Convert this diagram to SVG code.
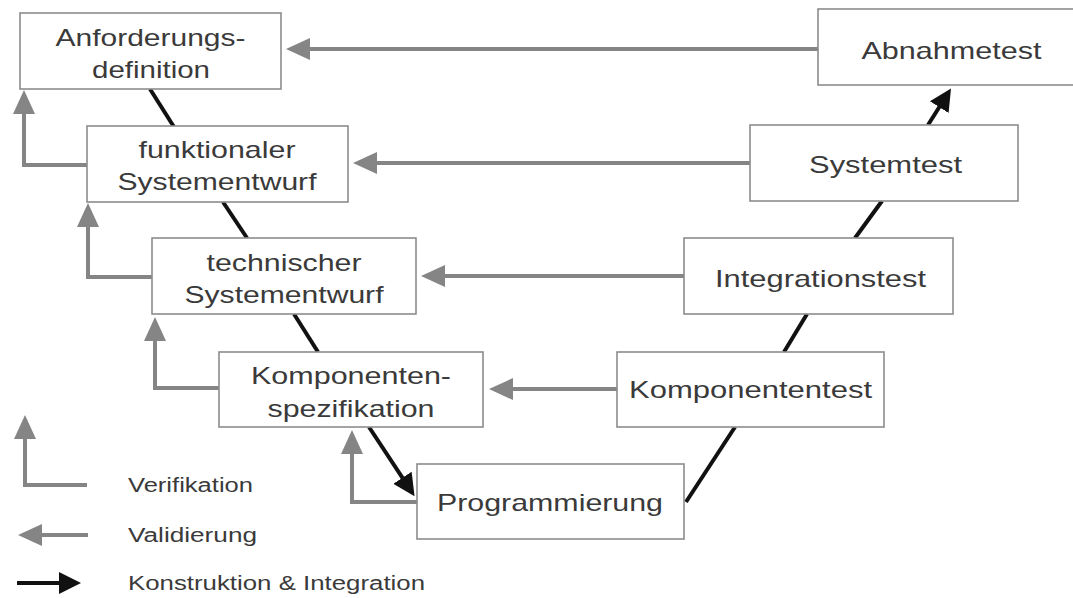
<svg xmlns="http://www.w3.org/2000/svg" width="1073" height="598" viewBox="0 0 1073 598">
  <style>
    .box { fill: #ffffff; stroke: #8c8c8c; stroke-width: 1.6; }
    .t { font-family: "Liberation Sans", Arial, sans-serif; font-size: 24px; fill: #3a3a3a; text-anchor: middle; }
    .lt { font-family: "Liberation Sans", Arial, sans-serif; font-size: 20px; fill: #3a3a3a; }
    .grey { fill: none; stroke: #858585; stroke-width: 4; }
    .black { fill: none; stroke: #111111; stroke-width: 4; }
  </style>
  <defs>
    <marker id="ag" markerUnits="userSpaceOnUse" markerWidth="26" markerHeight="24" viewBox="0 0 26 24" refX="1" refY="12" orient="auto">
      <path d="M0,1 L24,12 L0,23 z" fill="#858585"/>
    </marker>
    <marker id="ab" markerUnits="userSpaceOnUse" markerWidth="24" markerHeight="24" viewBox="0 0 24 24" refX="1" refY="12" orient="auto">
      <path d="M0,1 L22,12 L0,23 z" fill="#111111"/>
    </marker>
  </defs>
  <rect width="1073" height="598" fill="#ffffff"/>

  <g id="connectors">
    <!-- Validierung -->
    <path class="grey" d="M818,49 H309" marker-end="url(#ag)"/>
    <path class="grey" d="M750,163 H376" marker-end="url(#ag)"/>
    <path class="grey" d="M684,276 H444" marker-end="url(#ag)"/>
    <path class="grey" d="M617,389 H512" marker-end="url(#ag)"/>
    <!-- Verifikation -->
    <path class="grey" d="M87,165 H24 V113" marker-end="url(#ag)"/>
    <path class="grey" d="M152,277 H88 V226" marker-end="url(#ag)"/>
    <path class="grey" d="M219,388 H155 V340" marker-end="url(#ag)"/>
    <path class="grey" d="M417,502 H352 V453" marker-end="url(#ag)"/>
    <!-- Konstruktion & Integration -->
    <path class="black" d="M150,89 L174,127"/>
    <path class="black" d="M223,202 L247,238"/>
    <path class="black" d="M294,314 L318,352"/>
    <path class="black" d="M369,427 L403,478.6" marker-end="url(#ab)"/>
    <path class="black" d="M686,502 L735,427"/>
    <path class="black" d="M784,352 L807,314"/>
    <path class="black" d="M855,238 L882,201"/>
    <path class="black" d="M928,125 L939.8,106.3" marker-end="url(#ab)"/>
  </g>

  <g id="anforderungsdefinition">
    <rect class="box" x="20" y="13" width="261" height="76"/>
    <text class="t" x="150.5" y="46" textLength="190" lengthAdjust="spacingAndGlyphs">Anforderungs-</text>
    <text class="t" x="151" y="78" textLength="118" lengthAdjust="spacingAndGlyphs">definition</text>
  </g>
  <g id="funktionaler-systementwurf">
    <rect class="box" x="87" y="126" width="261" height="76"/>
    <text class="t" x="217" y="158" textLength="157" lengthAdjust="spacingAndGlyphs">funktionaler</text>
    <text class="t" x="217" y="190" textLength="199" lengthAdjust="spacingAndGlyphs">Systementwurf</text>
  </g>
  <g id="technischer-systementwurf">
    <rect class="box" x="152" y="238" width="264" height="76"/>
    <text class="t" x="284" y="271" textLength="155" lengthAdjust="spacingAndGlyphs">technischer</text>
    <text class="t" x="284" y="303" textLength="199" lengthAdjust="spacingAndGlyphs">Systementwurf</text>
  </g>
  <g id="komponentenspezifikation">
    <rect class="box" x="219" y="352" width="264" height="75"/>
    <text class="t" x="351" y="384" textLength="200" lengthAdjust="spacingAndGlyphs">Komponenten-</text>
    <text class="t" x="351" y="417" textLength="167" lengthAdjust="spacingAndGlyphs">spezifikation</text>
  </g>
  <g id="programmierung">
    <rect class="box" x="417" y="464" width="267" height="75"/>
    <text class="t" x="550" y="511" textLength="226" lengthAdjust="spacingAndGlyphs">Programmierung</text>
  </g>
  <g id="komponententest">
    <rect class="box" x="617" y="352" width="267" height="75"/>
    <text class="t" x="750.5" y="398" textLength="243" lengthAdjust="spacingAndGlyphs">Komponententest</text>
  </g>
  <g id="integrationstest">
    <rect class="box" x="684" y="238" width="269" height="76"/>
    <text class="t" x="820.5" y="287" textLength="211" lengthAdjust="spacingAndGlyphs">Integrationstest</text>
  </g>
  <g id="systemtest">
    <rect class="box" x="750" y="125" width="268" height="76"/>
    <text class="t" x="885.5" y="173" textLength="153" lengthAdjust="spacingAndGlyphs">Systemtest</text>
  </g>
  <g id="abnahmetest">
    <rect class="box" x="818" y="9" width="270" height="76"/>
    <text class="t" x="951.5" y="59" textLength="180" lengthAdjust="spacingAndGlyphs">Abnahmetest</text>
  </g>

  <g id="legend">
    <path class="grey" d="M87,485 H25 V438" marker-end="url(#ag)"/>
    <text class="lt" x="128" y="492" textLength="125" lengthAdjust="spacingAndGlyphs">Verifikation</text>
    <path class="grey" d="M88,535 H41" marker-end="url(#ag)"/>
    <text class="lt" x="128" y="542" textLength="129" lengthAdjust="spacingAndGlyphs">Validierung</text>
    <path class="black" d="M17,583 H60" marker-end="url(#ab)"/>
    <text class="lt" x="128" y="590" textLength="297" lengthAdjust="spacingAndGlyphs">Konstruktion &amp; Integration</text>
  </g>
</svg>
